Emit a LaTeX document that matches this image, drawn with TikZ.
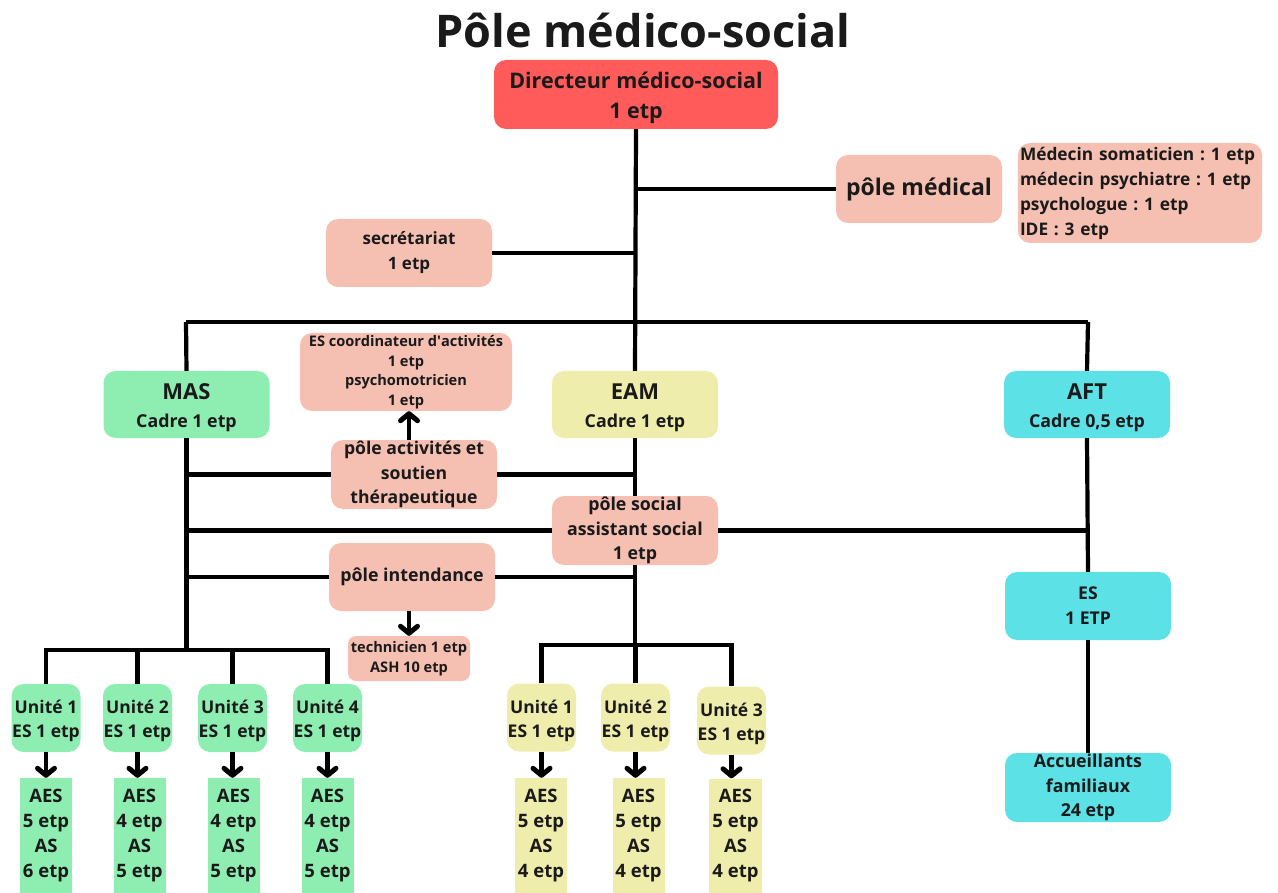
\documentclass[tikz,border=0pt]{standalone}
\usepackage{fontspec}
\setmainfont{Open Sans}
\usetikzlibrary{arrows.meta,calc}
\definecolor{pinkc}{HTML}{F5BFB2}
\definecolor{redc}{HTML}{FF5B5B}
\definecolor{greenc}{HTML}{8EEEB1}
\definecolor{yellowc}{HTML}{EEEDAB}
\definecolor{cyanc}{HTML}{5CE1E6}
\definecolor{txt}{HTML}{1A1A1A}
\frenchspacing
\newcommand{\fsz}[2]{\fontsize{#1}{#2}\selectfont\bfseries}
\begin{document}
\begin{tikzpicture}[x=1pt,y=-1pt,
  box/.style={rounded corners=12pt, inner sep=1pt, align=center, text=txt},
  std/.style={box, minimum width=166pt, minimum height=68pt},
  unitbox/.style={box, inner sep=0pt, minimum width=69pt, minimum height=68pt, font=\fsz{17.5}{24}},
  aesbox/.style={inner sep=0pt, minimum width=52pt, minimum height=115pt, align=center, text=txt, font=\fsz{18.5}{25}},
  conn/.style={line width=4.2pt, draw=black},
  arr/.style={line width=4.2pt, -{Straight Barb[length=7pt,width=17pt,line width=5pt,round]}},
]
\useasboundingbox (0,0) rectangle (1278,893);

\node[text=txt, font=\fsz{45}{50}] (title) at (643,30) {Pôle médico-social};

\node[box, fill=redc, minimum width=284pt, minimum height=69pt, font=\fsz{21.5}{30}] (dir) at (636,94.5) {\rule{0pt}{24pt}Directeur médico-social\\1 etp};
\node[std, fill=pinkc, font=\fsz{23}{26}] (medical) at (919,189) {pôle médical};
\node[box, fill=pinkc, minimum height=100pt, text width=240pt, inner xsep=2pt, align=left, font=\fsz{17.3}{25}] (medecin) at (1140,193) {Médecin somaticien : 1 etp\\médecin psychiatre : 1 etp\\psychologue : 1 etp\\IDE : 3 etp};
\node[std, fill=pinkc, font=\fsz{17}{25}] (secr) at (409,253) {secrétariat\\1 etp};

\node[std, fill=greenc, minimum height=67pt, font=\fsz{17.8}{28}] (MAS) at (186.5,404.5) {{\fsz{22}{26}\rule{0pt}{23pt}MAS}\\Cadre 1 etp};
\node[box, fill=pinkc, minimum width=212pt, minimum height=78pt, font=\fsz{14.6}{19.5}] (coord) at (406,372) {ES coordinateur d\textquotesingle activités\\1 etp\\psychomotricien\\1 etp};
\node[std, fill=yellowc, minimum height=67pt, font=\fsz{17.8}{28}] (EAM) at (635,404.5) {{\fsz{22}{26}\rule{0pt}{23pt}EAM}\\Cadre 1 etp};
\node[std, fill=cyanc, minimum height=67pt, font=\fsz{17.8}{28}] (AFT) at (1087,404.5) {{\fsz{22}{26}\rule{0pt}{23pt}AFT}\\Cadre 0,5 etp};

\node[std, fill=pinkc, minimum height=69pt, font=\fsz{17.6}{24.5}] (activ) at (414,474.5) {pôle activités et\\soutien\\thérapeutique};
\node[std, fill=pinkc, minimum height=69pt, font=\fsz{17.8}{24.5}] (social) at (635,530.5) {pôle social\\assistant social\\1 etp};
\node[std, fill=pinkc, font=\fsz{17.8}{24}] (intend) at (412,577) {pôle intendance};
\node[box, fill=pinkc, rounded corners=8pt, minimum width=122pt, minimum height=45pt, font=\fsz{14.6}{20}] (tech) at (409,658.5) {technicien 1 etp\\ASH 10 etp};

\node[std, fill=cyanc, font=\fsz{17.6}{25}] (es) at (1088,606) {ES\\1 ETP};
\node[std, fill=cyanc, minimum height=69pt, font=\fsz{17.8}{24.5}] (acc) at (1088,787.5) {Accueillants\\familiaux\\24 etp};

% MAS units
\node[unitbox, fill=greenc] (m1) at (46,718) {\rule{0pt}{20pt}Unité 1\\ES 1 etp};
\node[unitbox, fill=greenc] (m2) at (137.5,718) {\rule{0pt}{20pt}Unité 2\\ES 1 etp};
\node[unitbox, fill=greenc] (m3) at (232.5,718) {\rule{0pt}{20pt}Unité 3\\ES 1 etp};
\node[unitbox, fill=greenc] (m4) at (327.5,718) {\rule{0pt}{20pt}Unité 4\\ES 1 etp};
\node[aesbox, fill=greenc] (ma1) at (46,835.5) {AES\\5 etp\\AS\\6 etp};
\node[aesbox, fill=greenc] (ma2) at (139.5,835.5) {AES\\4 etp\\AS\\5 etp};
\node[aesbox, fill=greenc] (ma3) at (233.5,835.5) {AES\\4 etp\\AS\\5 etp};
\node[aesbox, fill=greenc] (ma4) at (327.5,835.5) {AES\\4 etp\\AS\\5 etp};

% EAM units
\node[unitbox, fill=yellowc] (e1) at (541.5,717.5) {\rule{0pt}{20pt}Unité 1\\ES 1 etp};
\node[unitbox, fill=yellowc] (e2) at (635.5,717.5) {\rule{0pt}{20pt}Unité 2\\ES 1 etp};
\node[unitbox, fill=yellowc] (e3) at (731.5,720.5) {\rule{0pt}{20pt}Unité 3\\ES 1 etp};
\node[aesbox, fill=yellowc] (ea1) at (541,835.5) {AES\\5 etp\\AS\\4 etp};
\node[aesbox, fill=yellowc] (ea2) at (638.5,835.5) {AES\\5 etp\\AS\\4 etp};
\node[aesbox, fill=yellowc, minimum width=53pt] (ea3) at (735.5,836) {AES\\5 etp\\AS\\4 etp};

% bus coordinates
\coordinate (busL) at (186,322);
\coordinate (busR) at (1088,322);
\coordinate (mbus) at (188,650);
\coordinate (ebus) at (634,645);

% connectors
\begin{scope}[conn]
\draw (dir.south) -- (EAM.north);
\draw (busL) -- (busR);
\draw (busL) -- (MAS.north);
\draw (busR) -- (AFT.north);
\draw (medical.west) -- (medical.west -| dir.south);
\draw (secr.east) -- (secr.east -| dir.south);
\draw (MAS.south) -- (MAS.south |- mbus);
\draw (activ.west) -- (activ.west -| MAS.south);
\draw (activ.east) -- (activ.east -| EAM.south);
\draw (EAM.south) -- (social.north);
\draw (social.west) -- (social.west -| MAS.south);
\draw (social.east) -- (social.east -| AFT.south);
\draw (AFT.south) -- (es.north);
\draw (es.south) -- (acc.north);
\draw (intend.west) -- (intend.west -| MAS.south);
\draw (intend.east) -- (intend.east -| EAM.south);
\draw (social.south) -- (social.south |- ebus);
\draw (m1.north) -- (m1.north |- mbus) -- (m4.north |- mbus) -- (m4.north);
\draw (m2.north) -- (m2.north |- mbus);
\draw (m3.north) -- (m3.north |- mbus);
\draw (e1.north) -- (e1.north |- ebus) -- (e3.north |- ebus) -- (e3.north);
\draw (e2.north) -- (e2.north |- ebus);
\end{scope}

% arrows
\draw[arr] (tech.north |- activ.north) -- (tech.north |- coord.south);
\draw[arr] (tech.north |- intend.south) -- (tech.north);
\foreach \u in {1,2,3,4}{\draw[arr] (m\u.south) -- (m\u.south |- ma\u.north);}
\foreach \u in {1,2,3}{\draw[arr] (e\u.south) -- (e\u.south |- ea\u.north);}
\end{tikzpicture}
\end{document}
